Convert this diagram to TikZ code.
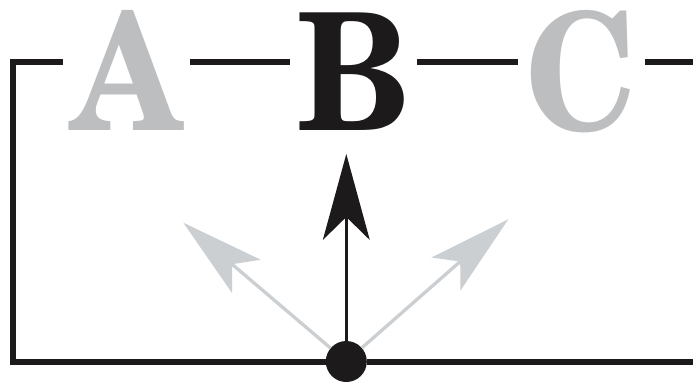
\documentclass[tikz,border=0pt]{standalone}
\usepackage{fontspec}
\setmainfont{texgyreschola-bold.otf}
\usetikzlibrary{arrows.meta}
\definecolor{inkblack}{HTML}{1C1A1B}
\definecolor{lettergray}{HTML}{BCBEC0}
\definecolor{arrowgray}{HTML}{CCCFD2}
\tikzset{
  letter/.style={inner sep=0pt, outer sep=0pt, minimum width=127pt, minimum height=0pt,
    font=\fontsize{163}{163}\selectfont},
  frame/.style={draw=inkblack, line width=6pt, line join=miter},
  blackarrow/.style={draw=inkblack, line width=3.3pt,
    -{Stealth[length=86pt, width=47pt, inset=23pt, line width=0pt]}},
  grayarrow/.style={draw=arrowgray, line width=3.3pt,
    -{Stealth[length=83pt, width=44pt, inset=19pt, line width=0pt]}},
  dot/.style={circle, fill=inkblack, inner sep=0pt, minimum size=41pt}
}
\newcommand{\lettertext}[1]{\makebox[0pt]{\raisebox{-67.7pt}[0pt][0pt]{\scalebox{0.89}[1]{#1}}}}
\begin{document}
\begin{tikzpicture}[x=1pt, y=-1pt]
  \useasboundingbox (0,0) rectangle (693,381);
  \fill[white] (0,0) rectangle (693,381);
  \node[letter, text=lettergray] (A) at (126.3,62.3) {\lettertext{A}};
  \node[letter, text=inkblack] (B) at (353.5,62.3) {\lettertext{B}};
  \node[letter, text=lettergray] (C) at (581.5,62.3) {\lettertext{C}};
  \coordinate (tl) at (13.3,62.3);
  \coordinate (bl) at (13.3,361.5);
  \coordinate (br) at (693,361.5);
  \coordinate (tr) at (693,62.3);
  \coordinate (tipB) at (346.3,154);
  \coordinate (tipL) at (183.3,222.7);
  \coordinate (tipR) at (508.3,219.3);
  \node[dot] (O) at (346.3,361.5) {};
  \draw[frame] (A.west) -- (tl) -- (bl) -- (O);
  \draw[frame] (O) -- (br);
  \draw[frame] (A.east) -- (B.west);
  \draw[frame] (B.east) -- (C.west);
  \draw[frame] (C.east) -- (tr);
  \draw[grayarrow] (O) -- (tipL);
  \draw[grayarrow] (O) -- (tipR);
  \draw[blackarrow] (O) -- (tipB);
\end{tikzpicture}
\end{document}
